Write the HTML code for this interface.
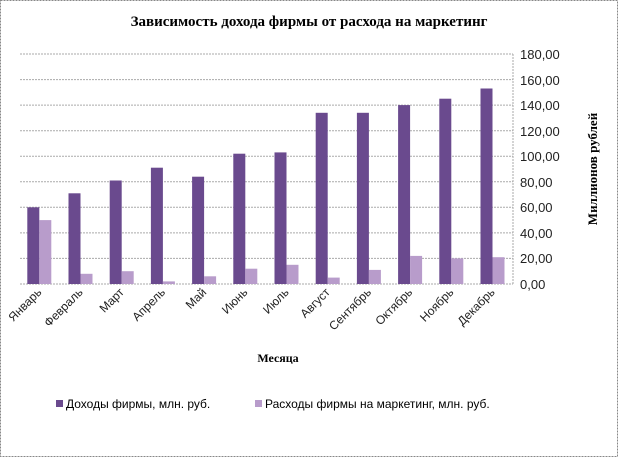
<!DOCTYPE html>
<html><head><meta charset="utf-8"><style>
body{margin:0;background:#fff;}
</style></head><body>
<svg width="618" height="457" xmlns="http://www.w3.org/2000/svg" font-family="Liberation Sans, sans-serif">
<rect x="0.5" y="0.5" width="617" height="456" fill="#fff" stroke="#888" stroke-dasharray="2,1"/>
<text x="309" y="26" text-anchor="middle" font-family="Liberation Serif, serif" font-weight="bold" font-size="15">Зависимость дохода фирмы от расхода на маркетинг</text>
<g stroke="#aaa" stroke-dasharray="2,1">
<line x1="20" x2="513" y1="54" y2="54"/><line x1="20" x2="513" y1="79.6" y2="79.6"/><line x1="20" x2="513" y1="105.1" y2="105.1"/><line x1="20" x2="513" y1="130.7" y2="130.7"/><line x1="20" x2="513" y1="156.2" y2="156.2"/><line x1="20" x2="513" y1="181.8" y2="181.8"/><line x1="20" x2="513" y1="207.3" y2="207.3"/><line x1="20" x2="513" y1="232.9" y2="232.9"/><line x1="20" x2="513" y1="258.4" y2="258.4"/><line x1="20" x2="513" y1="284" y2="284"/>
<line x1="513" x2="513" y1="54" y2="284"/>
</g>
<g fill="#6a4a8e">
<rect x="27.3" y="207.3" width="12" height="76.7"/>
<rect x="68.5" y="193.3" width="12" height="90.7"/>
<rect x="109.7" y="180.5" width="12" height="103.5"/>
<rect x="150.9" y="167.7" width="12" height="116.3"/>
<rect x="192.1" y="176.7" width="12" height="107.3"/>
<rect x="233.3" y="153.7" width="12" height="130.3"/>
<rect x="274.5" y="152.4" width="12" height="131.6"/>
<rect x="315.7" y="112.8" width="12" height="171.2"/>
<rect x="356.9" y="112.8" width="12" height="171.2"/>
<rect x="398.1" y="105.1" width="12" height="178.9"/>
<rect x="439.3" y="98.7" width="12" height="185.3"/>
<rect x="480.5" y="88.5" width="12" height="195.5"/>
</g>
<g fill="#b89ccb">
<rect x="39.3" y="220.1" width="12" height="63.9"/>
<rect x="80.5" y="273.8" width="12" height="10.2"/>
<rect x="121.7" y="271.2" width="12" height="12.8"/>
<rect x="162.9" y="281.4" width="12" height="2.6"/>
<rect x="204.1" y="276.3" width="12" height="7.7"/>
<rect x="245.3" y="268.7" width="12" height="15.3"/>
<rect x="286.5" y="264.8" width="12" height="19.2"/>
<rect x="327.7" y="277.6" width="12" height="6.4"/>
<rect x="368.9" y="269.9" width="12" height="14.1"/>
<rect x="410.1" y="255.9" width="12" height="28.1"/>
<rect x="451.3" y="258.4" width="12" height="25.6"/>
<rect x="492.5" y="257.2" width="12" height="26.8"/>
</g>
<g font-size="13" fill="#222">
<text x="520" y="59">180,00</text><text x="520" y="85">160,00</text><text x="520" y="110">140,00</text><text x="520" y="136">120,00</text><text x="520" y="161">100,00</text><text x="520" y="187">80,00</text><text x="520" y="212">60,00</text><text x="520" y="238">40,00</text><text x="520" y="263">20,00</text><text x="520" y="289">0,00</text>
</g>
<text transform="translate(597,169) rotate(-90)" text-anchor="middle" font-family="Liberation Serif, serif" font-weight="bold" font-size="13">Миллионов рублей</text>
<g font-size="12" fill="#222" text-anchor="end">
<text transform="translate(42.3,293) rotate(-45)">Январь</text>
<text transform="translate(83.5,293) rotate(-45)">Февраль</text>
<text transform="translate(124.7,293) rotate(-45)">Март</text>
<text transform="translate(165.9,293) rotate(-45)">Апрель</text>
<text transform="translate(207.1,293) rotate(-45)">Май</text>
<text transform="translate(248.3,293) rotate(-45)">Июнь</text>
<text transform="translate(289.5,293) rotate(-45)">Июль</text>
<text transform="translate(330.7,293) rotate(-45)">Август</text>
<text transform="translate(371.9,293) rotate(-45)">Сентябрь</text>
<text transform="translate(413.1,293) rotate(-45)">Октябрь</text>
<text transform="translate(454.3,293) rotate(-45)">Ноябрь</text>
<text transform="translate(495.5,293) rotate(-45)">Декабрь</text>
</g>
<text x="278" y="362" text-anchor="middle" font-family="Liberation Serif, serif" font-weight="bold" font-size="12">Месяца</text>
<rect x="56" y="400" width="7" height="7" fill="#6a4a8e"/>
<text x="66" y="408" font-size="12">Доходы фирмы, млн. руб.</text>
<rect x="255" y="400" width="7" height="7" fill="#b89ccb"/>
<text x="265" y="408" font-size="12">Расходы фирмы на маркетинг, млн. руб.</text>
</svg>
</body></html>
